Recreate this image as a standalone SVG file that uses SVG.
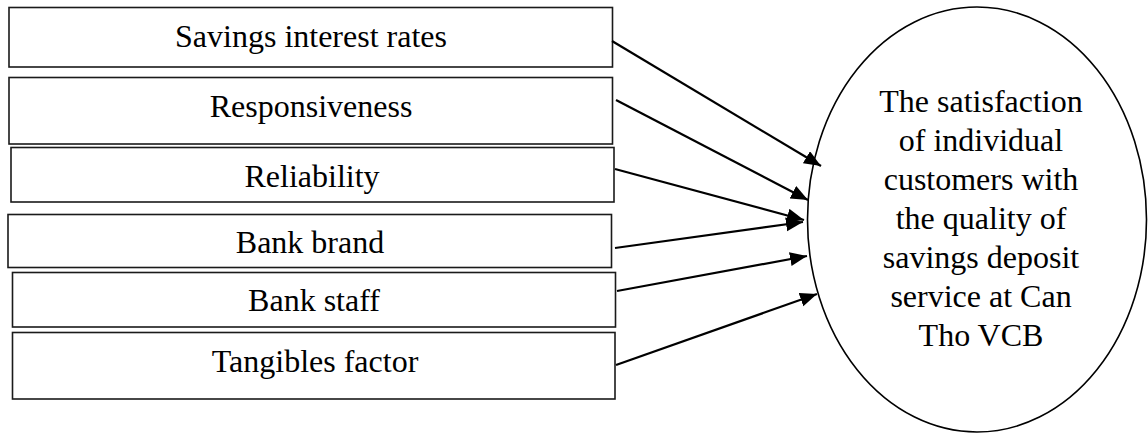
<svg xmlns="http://www.w3.org/2000/svg" width="1148" height="433" viewBox="0 0 1148 433">
<style>
.box{fill:#fff;stroke:#1a1a1a;stroke-width:1.6}
.t{font-family:"Liberation Serif","Times New Roman",serif;font-size:32px;fill:#000;text-anchor:middle}
.c{stroke:#000;stroke-width:2.2;fill:none;marker-end:url(#ah)}
.ell{fill:#fff;stroke:#000;stroke-width:1.6}
</style>
<defs>
<marker id="ah" markerUnits="userSpaceOnUse" markerWidth="18" markerHeight="15" refX="17" refY="7" orient="auto">
<path d="M0,0 L17,7 L0,14 z" fill="#000"/>
</marker>
</defs>
<rect width="1148" height="433" fill="#fff"/>
<g id="n1"><rect class="box" x="9" y="7.5" width="603.5" height="59.5"/><text class="t" x="311" y="47">Savings interest rates</text></g>
<g id="n2"><rect class="box" x="9" y="77.5" width="603.5" height="66.5"/><text class="t" x="311" y="117">Responsiveness</text></g>
<g id="n3"><rect class="box" x="11" y="147.5" width="603" height="54.5"/><text class="t" x="312" y="187">Reliability</text></g>
<g id="n4"><rect class="box" x="8" y="214.5" width="603.5" height="53"/><text class="t" x="310" y="253">Bank brand</text></g>
<g id="n5"><rect class="box" x="12.5" y="272.5" width="603" height="54.5"/><text class="t" x="314" y="311">Bank staff</text></g>
<g id="n6"><rect class="box" x="12.5" y="332.5" width="602.5" height="66.5"/><text class="t" x="315" y="372">Tangibles factor</text></g>
<g id="target">
<ellipse class="ell" cx="977" cy="219.5" rx="169.5" ry="212.5"/>
<text class="t" x="981"><tspan x="981" y="112">The satisfaction</tspan><tspan x="981" y="151">of individual</tspan><tspan x="981" y="190">customers with</tspan><tspan x="981" y="229">the quality of</tspan><tspan x="981" y="268">savings deposit</tspan><tspan x="981" y="307">service at Can</tspan><tspan x="981" y="346">Tho VCB</tspan></text>
</g>
<g id="connectors">
<line class="c" x1="612" y1="41" x2="821" y2="166"/>
<line class="c" x1="616" y1="100" x2="808" y2="200"/>
<line class="c" x1="615" y1="169" x2="804" y2="220"/>
<line class="c" x1="615" y1="248" x2="803" y2="222"/>
<line class="c" x1="617" y1="291" x2="807" y2="256"/>
<line class="c" x1="616" y1="365" x2="817" y2="294"/>
</g>
</svg>
